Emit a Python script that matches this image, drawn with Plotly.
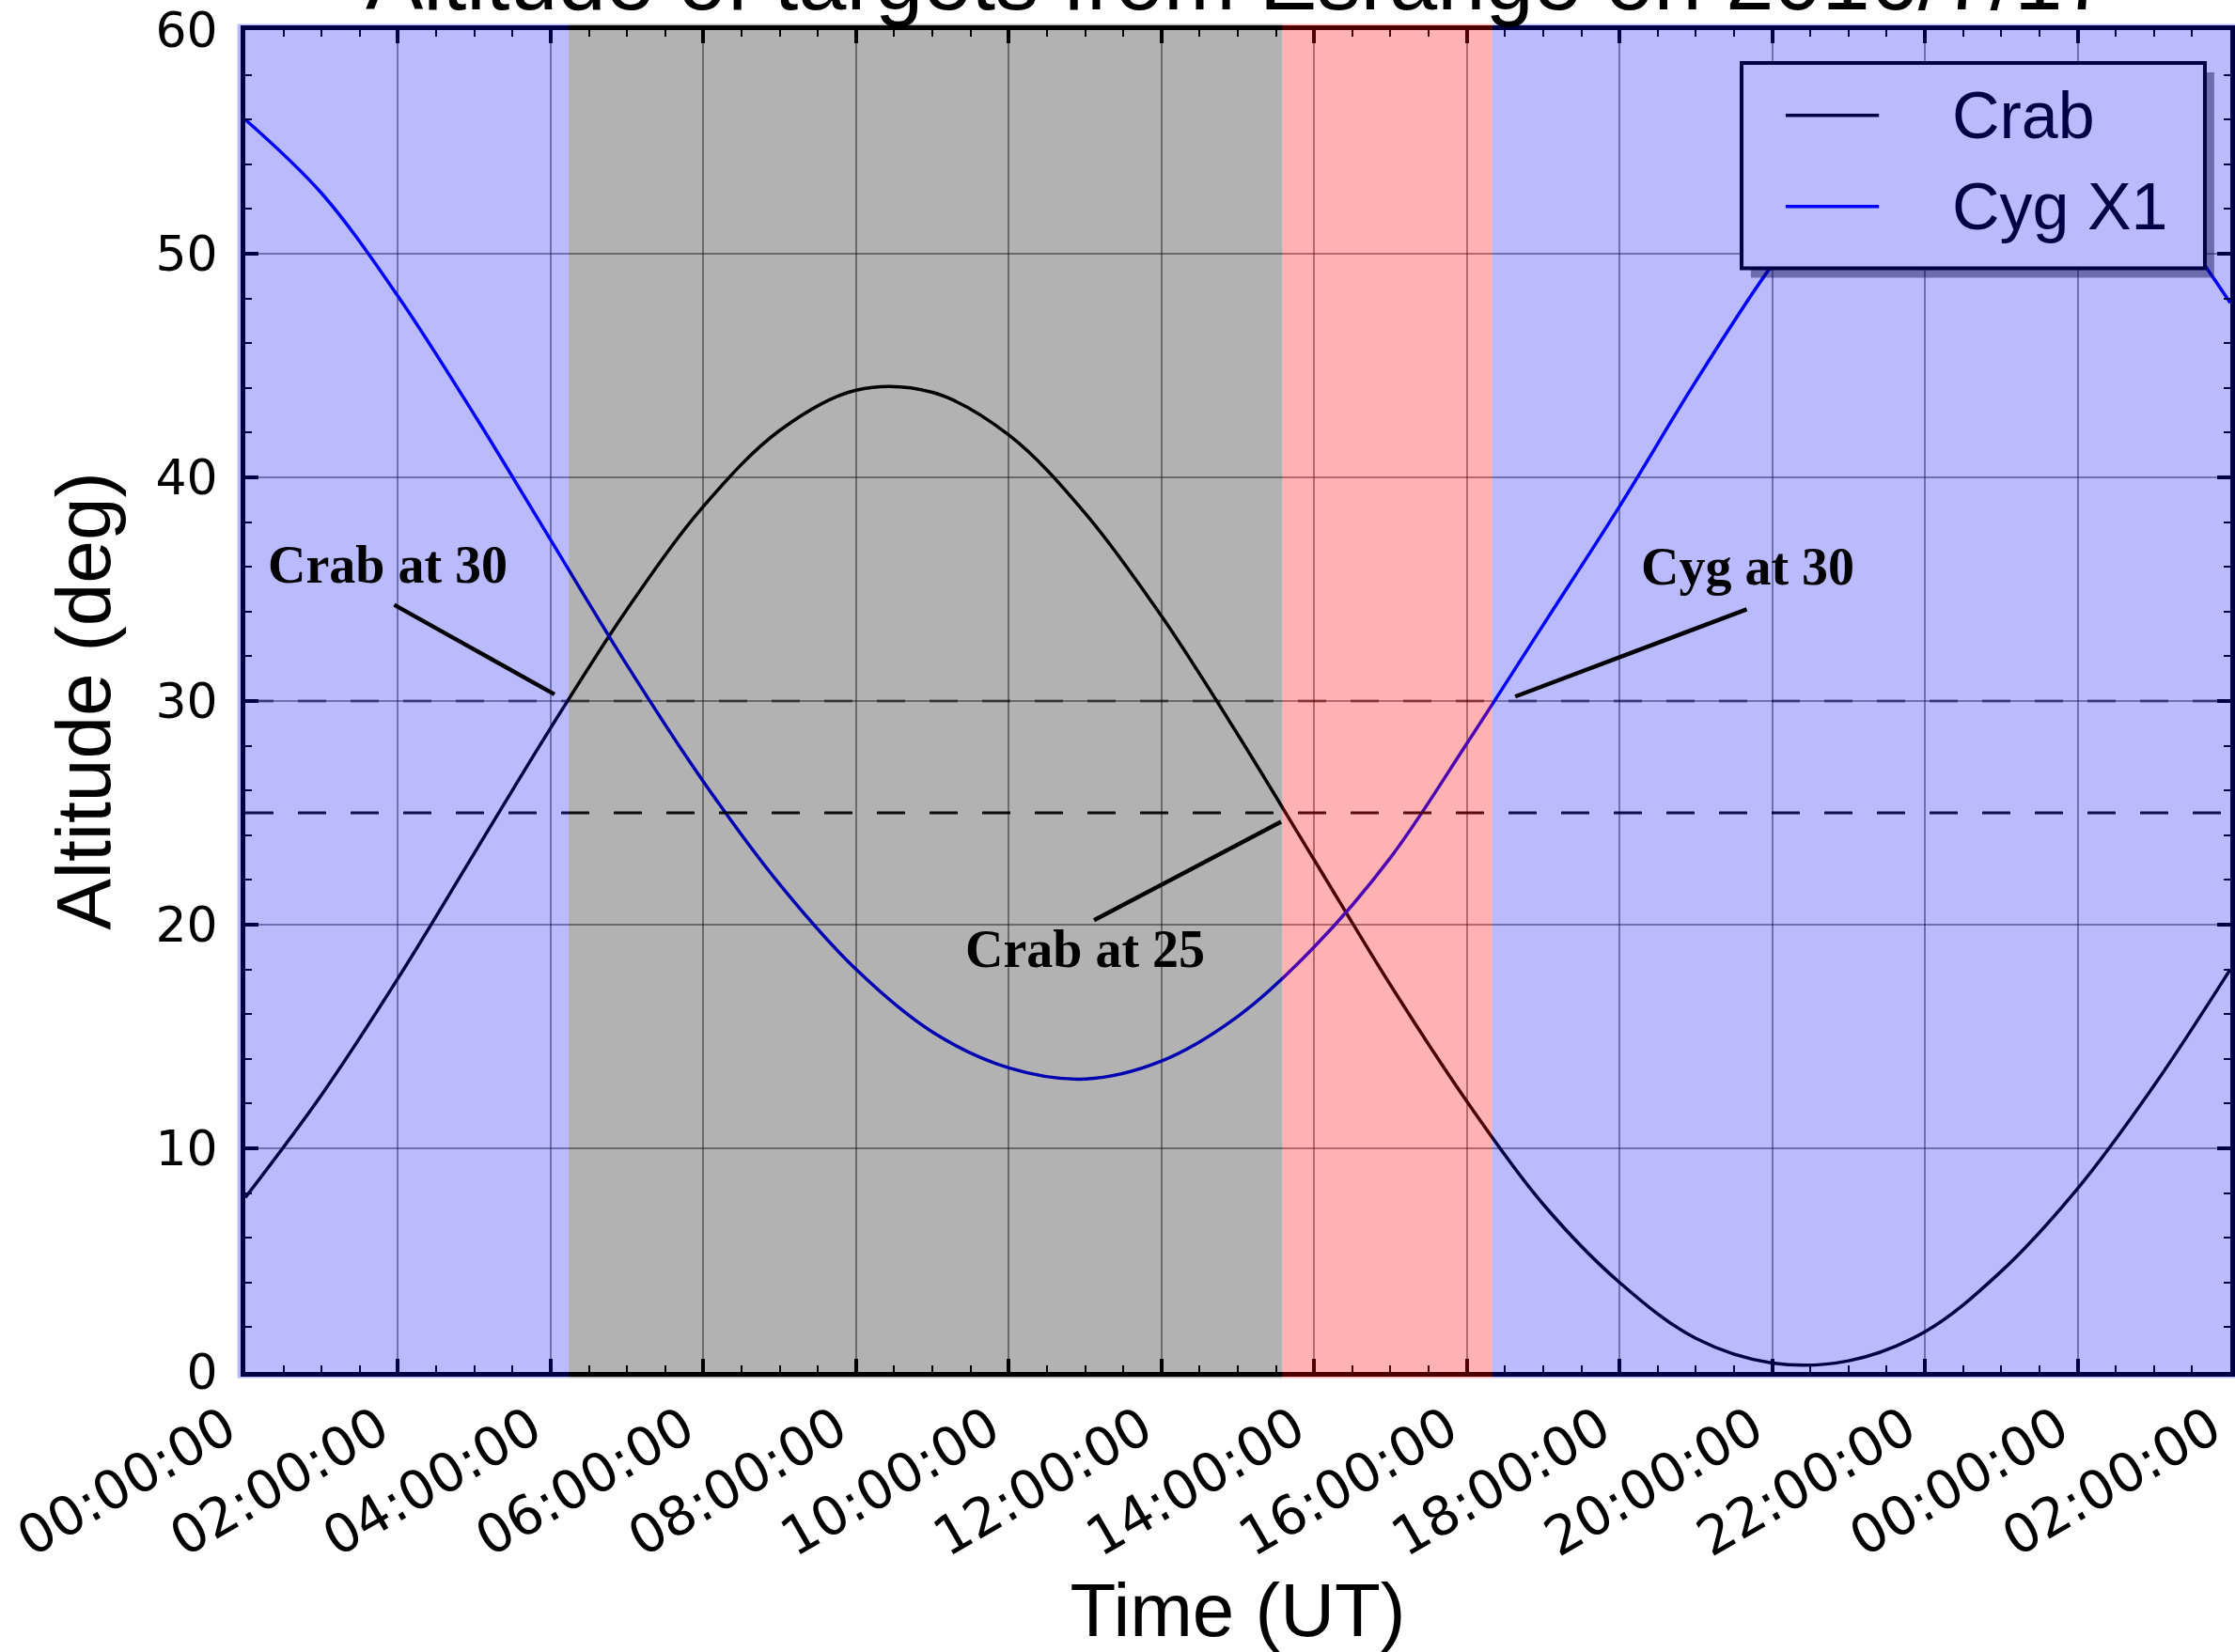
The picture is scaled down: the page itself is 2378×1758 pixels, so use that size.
import plotly.graph_objects as go
import pandas as pd

# ---------------- data ----------------
times = [
    "2016-07-17 00:00", "2016-07-17 01:00", "2016-07-17 02:00", "2016-07-17 03:00",
    "2016-07-17 04:00", "2016-07-17 05:00", "2016-07-17 06:00", "2016-07-17 07:00",
    "2016-07-17 08:00", "2016-07-17 09:00", "2016-07-17 10:00", "2016-07-17 11:00",
    "2016-07-17 12:00", "2016-07-17 13:00", "2016-07-17 14:00", "2016-07-17 15:00",
    "2016-07-17 16:00", "2016-07-17 17:00", "2016-07-17 18:00", "2016-07-17 19:00",
    "2016-07-17 20:00", "2016-07-17 21:00", "2016-07-17 22:00", "2016-07-17 23:00",
    "2016-07-18 00:00", "2016-07-18 01:00", "2016-07-18 02:00",
]
crab_alt = [7.8, 12.4, 17.6, 23.2, 28.8, 34.1, 38.7, 42.1, 43.9, 43.8, 41.9, 38.4,
            33.8, 28.5, 22.9, 17.3, 12.1, 7.5, 4.0, 1.5, 0.4, 0.5, 1.8, 4.5,
            8.2, 12.8, 18.0]
cyg_alt = [56.0, 52.7, 48.1, 42.8, 37.2, 31.6, 26.4, 21.8, 18.0, 15.2, 13.6, 13.1,
           13.9, 15.9, 19.0, 23.0, 28.1, 33.4, 38.7, 44.3, 49.5, 53.8, 56.5, 57.2,
           55.8, 52.5, 47.8]
series_names = ["Crab", "Cyg X1"]

# x tick positions (every two hours)
tick_times = [
    "2016-07-17 00:00", "2016-07-17 02:00", "2016-07-17 04:00", "2016-07-17 06:00",
    "2016-07-17 08:00", "2016-07-17 10:00", "2016-07-17 12:00", "2016-07-17 14:00",
    "2016-07-17 16:00", "2016-07-17 18:00", "2016-07-17 20:00", "2016-07-17 22:00",
    "2016-07-18 00:00", "2016-07-18 02:00",
]
tick_labels = ["00:00:00", "02:00:00", "04:00:00", "06:00:00", "08:00:00", "10:00:00",
               "12:00:00", "14:00:00", "16:00:00", "18:00:00", "20:00:00", "22:00:00",
               "00:00:00", "02:00:00"]

# observing windows (time edges) and their kind
band_edges = ["2016-07-17 00:00", "2016-07-17 04:14", "2016-07-17 13:35",
              "2016-07-17 16:20", "2016-07-18 02:00"]
band_kinds = ["night", "crab", "gap", "night"]

limit_levels = [30, 25]

ann_texts = ["Crab at 30", "Crab at 25", "Cyg at 30"]
ann_text_pos = [("2016-07-17 01:52", 36.1), ("2016-07-17 11:00", 18.9), ("2016-07-17 19:41", 36.0)]
ann_line_start = [("2016-07-17 01:57", 34.3), ("2016-07-17 11:07", 20.2), ("2016-07-17 19:40", 34.1)]
ann_point = [("2016-07-17 04:03", 30.3), ("2016-07-17 13:34", 24.6), ("2016-07-17 16:38", 30.2)]

title_text = "Altitude of targets from Esrange on 2016/7/17"

# ---------------- style ----------------
W, H = 2378, 1758
ML, MR, MT, MB = 261, 5, 32, 298
band_fill = {"night": "rgba(0,0,255,0.27)", "crab": "rgba(0,0,0,0.30)", "gap": "rgba(255,0,0,0.30)"}
line_colors = ["black", "#0000ff"]
SANS = "Liberation Sans, Arial, sans-serif"
TICKF = "DejaVu Sans, sans-serif"
SERIF = "Liberation Serif, Times New Roman, serif"

fig = go.Figure()
for name, vals, col in zip(series_names, [crab_alt, cyg_alt], line_colors):
    fig.add_trace(go.Scatter(x=times, y=vals, mode="lines", name=name,
                             line=dict(color=col, width=3.5, shape="spline", smoothing=1.0),
                             showlegend=False, hoverinfo="skip"))

t0 = pd.Timestamp(band_edges[0])
t1 = pd.Timestamp(band_edges[-1])
span = (t1 - t0).total_seconds()


def frac(t):
    return (pd.Timestamp(t) - t0).total_seconds() / span


shapes = []
# limit lines
for lvl, col in zip(limit_levels, ["rgba(0,0,0,0.5)", "rgba(0,0,0,0.92)"]):
    shapes.append(dict(type="line", xref="paper", yref="y", x0=0, x1=1, y0=lvl, y1=lvl,
                       line=dict(color=col, width=3, dash="30px,26px"), layer="above"))

# legend box (drawn under band overlay)
lx0, lx1, ly0, ly1 = 0.7538, 0.9872, 0.8224, 0.9755
sh = 0.0047
shapes.append(dict(type="rect", xref="paper", yref="paper", x0=lx0 + sh, x1=lx1 + sh,
                   y0=ly0 - 0.007, y1=ly1 - 0.007, fillcolor="rgba(0,0,0,0.42)",
                   line=dict(width=0), layer="above"))
shapes.append(dict(type="rect", xref="paper", yref="paper", x0=lx0, x1=lx1, y0=ly0, y1=ly1,
                   fillcolor="white", line=dict(color="black", width=4), layer="above"))
legend_rows = [0.9364, 0.8685]
for row, col in zip(legend_rows, line_colors):
    shapes.append(dict(type="line", xref="paper", yref="paper", x0=0.776, x1=0.823,
                       y0=row, y1=row, line=dict(color=col, width=3.5), layer="above"))

# band overlays
for i, kind in enumerate(band_kinds):
    a = frac(band_edges[i])
    b = frac(band_edges[i + 1])
    if i == 0:
        a -= 0.004
    if i == len(band_kinds) - 1:
        b += 0.004
    shapes.append(dict(type="rect", xref="paper", yref="paper", x0=a, x1=b, y0=-0.0045, y1=1.0045,
                       fillcolor=band_fill[kind], line=dict(width=0), layer="above"))

# leader lines
for (xs, ys), (xp, yp) in zip(ann_line_start, ann_point):
    shapes.append(dict(type="line", xref="x", yref="y", x0=xs, y0=ys, x1=xp, y1=yp,
                       line=dict(color="black", width=4.5), layer="above"))

annotations = []
for txt, (xt, yt) in zip(ann_texts, ann_text_pos):
    annotations.append(dict(text=txt, x=xt, y=yt, xref="x", yref="y", showarrow=False,
                            xanchor="center", yanchor="middle",
                            font=dict(family=SERIF, size=56, color="black", weight="bold")))
for txt, row in zip(series_names, legend_rows):
    annotations.append(dict(text=txt, x=0.859, y=row, xref="paper", yref="paper", showarrow=False,
                            xanchor="left", yanchor="middle",
                            font=dict(family=SANS, size=70, color="#000046")))
annotations.append(dict(text=title_text, x=0.5, y=1, xref="paper", yref="paper", showarrow=False,
                        xanchor="center", yanchor="bottom", yshift=1,
                        font=dict(family=SANS, size=92, color="black")))

fig.update_layout(
    width=W, height=H, autosize=False,
    margin=dict(l=ML, r=MR, t=MT, b=MB, autoexpand=False),
    paper_bgcolor="white", plot_bgcolor="white",
    shapes=shapes, annotations=annotations, showlegend=False,
)
fig.update_xaxes(
    type="date", range=[band_edges[0], band_edges[-1]], automargin=False,
    tickmode="array", tickvals=tick_times, ticktext=tick_labels, tickangle=-30,
    ticklabeloverflow="allow", ticklabelshift=-20,
    ticks="inside", ticklen=14, tickwidth=4, tickcolor="black",
    minor=dict(dtick=1800000, tick0=band_edges[0], ticks="inside", ticklen=7, tickwidth=2,
               tickcolor="black"),
    showline=True, linewidth=5, linecolor="black", mirror="allticks",
    showgrid=True, gridcolor="rgba(0,0,0,0.4)", gridwidth=2, zeroline=False,
    tickfont=dict(family=TICKF, size=57, color="black"),
    title=dict(text="Time (UT)", font=dict(family=SANS, size=80, color="black"), standoff=22),
)
fig.update_yaxes(
    range=[0, 60], dtick=10, tick0=0, automargin=False,
    ticks="inside", ticklen=14, tickwidth=4, tickcolor="black",
    minor=dict(dtick=2, ticks="inside", ticklen=7, tickwidth=2, tickcolor="black"),
    showline=True, linewidth=5, linecolor="black", mirror="allticks",
    showgrid=True, gridcolor="rgba(0,0,0,0.4)", gridwidth=2, zeroline=False,
    tickfont=dict(family=TICKF, size=52, color="black"),
    ticklabelstandoff=14,
    title=dict(text="Altitude (deg)", font=dict(family=SANS, size=82, color="black"), standoff=22),
)

fig.write_html("out.html")
